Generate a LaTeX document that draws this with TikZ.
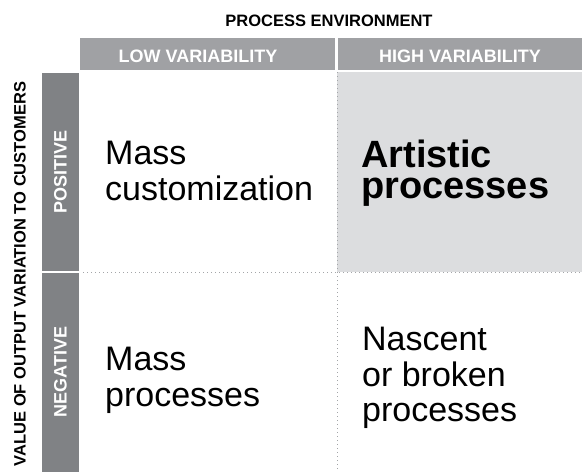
\documentclass[tikz,border=0pt]{standalone}
\usepackage{fontspec}
\setmainfont{Liberation Sans}

\definecolor{headGray}{HTML}{A0A1A4}
\definecolor{sideGray}{HTML}{808285}
\definecolor{cellGray}{HTML}{DCDDDF}
\definecolor{ruleGray}{HTML}{A3A5A8}

\tikzset{
  headlabel/.style={font=\fontsize{18}{18}\selectfont\bfseries, text=white, inner sep=0},
  sidelabel/.style={headlabel, rotate=90},
  axislabel/.style={font=\fontsize{16.5}{16.5}\selectfont\bfseries, inner sep=0},
  celltext/.style={anchor=north west, align=left, inner sep=0, font=\fontsize{34}{35.5}\selectfont},
  gridline/.style={ruleGray, line width=1pt, dash pattern=on 1.2pt off 2.8pt}
}

\begin{document}
\begin{tikzpicture}[x=1pt,y=-1pt]

\def\gridX{80}
\def\midX{337}
\def\rightX{582}
\def\headTop{38}
\def\headBot{70}
\def\rowTop{72}
\def\midY{272}
\def\botY{472}
\def\sideL{42}
\def\sideR{79}

\useasboundingbox (0,0) rectangle (582,472);

\fill[cellGray] (\midX,\rowTop) rectangle (\rightX,\midY);

\fill[headGray] (\gridX,\headTop) rectangle (\midX-2,\headBot);
\fill[headGray] (\midX+1,\headTop) rectangle (\rightX,\headBot);
\fill[sideGray] (\sideL,\rowTop+1) rectangle (\sideR,\midY-1);
\fill[sideGray] (\sideL,\midY+1) rectangle (\sideR,\botY);

\draw[gridline] (\midX,\rowTop) -- (\midX,\botY);
\draw[gridline] (\sideR+4,\midY) -- (\rightX,\midY);

\node[axislabel, anchor=base] (procEnv) at (329,26) {PROCESS ENVIRONMENT};
\node[axislabel, rotate=90] (valueVar) at (20,274) {VALUE OF OUTPUT VARIATION TO CUSTOMERS};

\node[headlabel, anchor=base] (lowVar) at (198,62) {LOW VARIABILITY};
\node[headlabel, anchor=base] (highVar) at (460,62) {HIGH VARIABILITY};
\node[sidelabel] (positive) at (60.5,172) {POSITIVE};
\node[sidelabel] (negative) at (60.5,372) {NEGATIVE};

\node[celltext] (massCust) at (105,141) {Mass\\customization};
\node[celltext, font=\fontsize{38}{31}\selectfont\bfseries] (artistic) at (361,140) {Artistic\\processes};
\node[celltext] (massProc) at (105,347) {Mass\\processes};
\node[celltext] (nascent) at (362,327) {Nascent\\or broken\\processes};

\end{tikzpicture}
\end{document}
